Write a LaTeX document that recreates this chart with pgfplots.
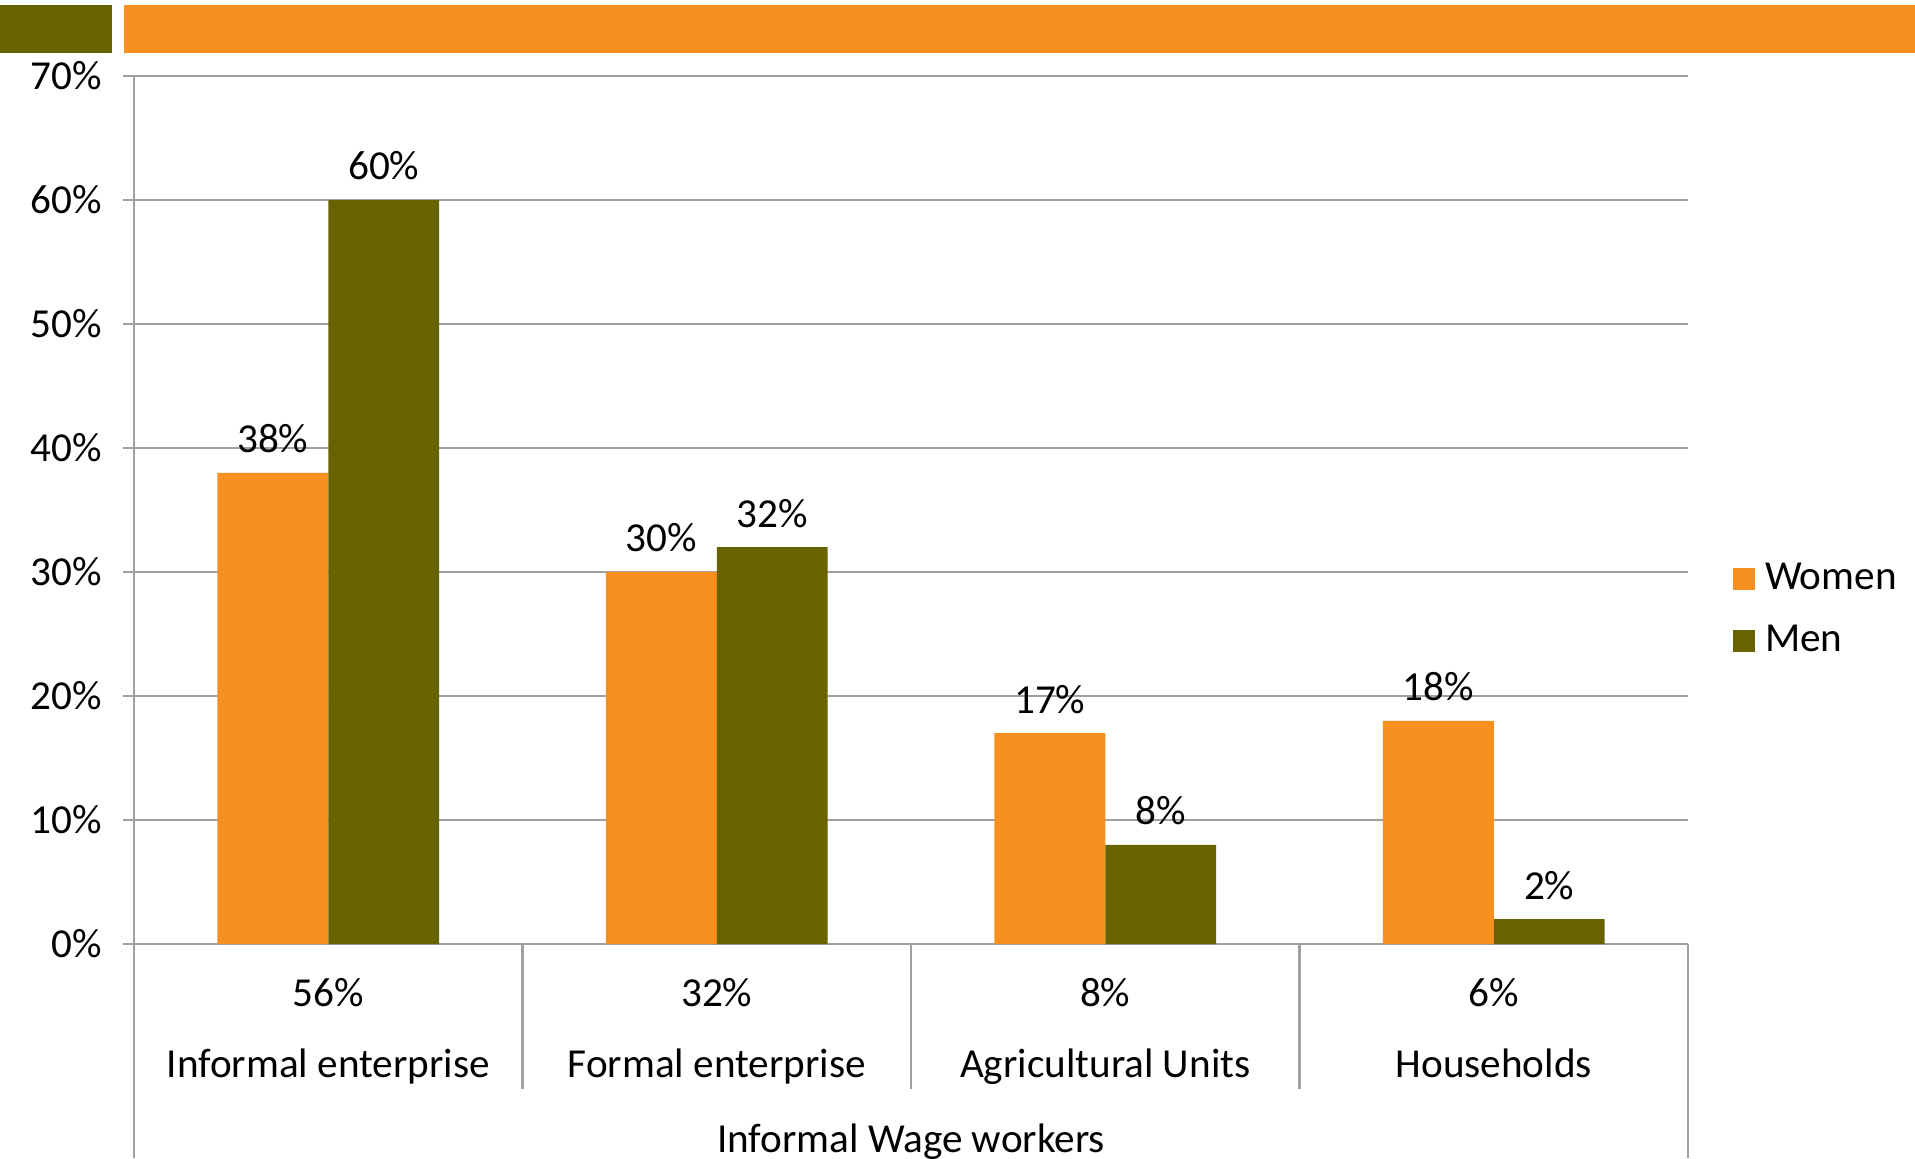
\documentclass[border=0pt]{standalone}
\usepackage{fontspec}
\setmainfont{Carlito}
\usepackage{pgfplots}
\pgfplotsset{compat=1.18}
\definecolor{orangeW}{RGB}{247,144,30}
\definecolor{oliveM}{RGB}{102,99,0}
\definecolor{gridgray}{RGB}{160,160,160}
\begin{document}
\fontsize{10.3}{12}\selectfont
\begin{tikzpicture}
\path[use as bounding box] (0pt,0pt) rectangle (478.75pt,289.5pt);
\fill[oliveM] (0pt,276.25pt) rectangle (28pt,288.25pt);
\fill[orangeW] (31pt,276.25pt) rectangle (478.75pt,288.25pt);
\begin{axis}[
  at={(33.5pt,53.5pt)}, anchor=south west,
  scale only axis, width=388.5pt, height=217pt,
  xmin=-0.5, xmax=3.5, ymin=0, ymax=70,
  ybar, bar width=0.2857,
  axis x line*=bottom, axis y line*=left,
  axis line style={gridgray, line width=0.6pt, -},
  xtick=\empty,
  ytick={0,10,20,30,40,50,60,70},
  yticklabel={\pgfmathprintnumber{\tick}\%},
  /pgf/number format/assume math mode=true,
  yticklabel style={inner sep=0pt, xshift=-5.15pt, font=\fontsize{10.3}{12}\selectfont},
  tick align=outside, major tick length=2.75pt,
  tick style={gridgray, line width=0.6pt},
  ymajorgrids, grid style={gridgray, line width=0.6pt},
  nodes near coords={\pgfmathprintnumber{\pgfplotspointmeta}\%},
  every node near coord/.append style={inner sep=0pt, yshift=4.75pt, text=black, font=\fontsize{10.3}{12}\selectfont},
  legend style={at={(1,0.3847)}, anchor=west, xshift=11.25pt, draw=none, fill=none,
    inner sep=0pt, outer sep=0pt, row sep=7.4pt,
    nodes={inner sep=0pt}, font=\fontsize{10.3}{12}\selectfont,
    /tikz/every odd column/.append style={column sep=2.5pt}},
  legend cell align=left,
  clip=false,
]
\addplot[fill=orangeW, draw=none, bar shift=-0.14285,
  legend image code/.code={\fill[orangeW] (0pt,-2.75pt) rectangle (5.5pt,2.75pt);}]
  coordinates {(0,38) (1,30) (2,17) (3,18)};
\addlegendentry{Women}
\addplot[fill=oliveM, draw=none, bar shift=0.14285,
  legend image code/.code={\fill[oliveM] (0pt,-2.75pt) rectangle (5.5pt,2.75pt);}]
  coordinates {(0,60) (1,32) (2,8) (3,2)};
\addlegendentry{Men}
% category frame below axis
\draw[gridgray, line width=0.6pt] (axis cs:-0.5,0) -- ++(0pt,-53.5pt);
\draw[gridgray, line width=0.6pt] (axis cs:3.5,0) -- ++(0pt,-53.5pt);
\draw[gridgray, line width=0.6pt] (axis cs:0.5,0) -- ++(0pt,-36.25pt);
\draw[gridgray, line width=0.6pt] (axis cs:1.5,0) -- ++(0pt,-36.25pt);
\draw[gridgray, line width=0.6pt] (axis cs:2.5,0) -- ++(0pt,-36.25pt);
\node[anchor=base] at ([yshift=-15.5pt]axis cs:0,0) {56\%};
\node[anchor=base] at ([yshift=-15.5pt]axis cs:1,0) {32\%};
\node[anchor=base] at ([yshift=-15.5pt]axis cs:2,0) {8\%};
\node[anchor=base] at ([yshift=-15.5pt]axis cs:3,0) {6\%};
\node[anchor=base] at ([yshift=-33.25pt]axis cs:0,0) {Informal enterprise};
\node[anchor=base] at ([yshift=-33.25pt]axis cs:1,0) {Formal enterprise};
\node[anchor=base] at ([yshift=-33.25pt]axis cs:2,0) {Agricultural Units};
\node[anchor=base] at ([yshift=-33.25pt]axis cs:3,0) {Households};
\node[anchor=base] at ([yshift=-52pt]axis cs:1.5,0) {Informal Wage workers};
\end{axis}
\end{tikzpicture}
\end{document}
